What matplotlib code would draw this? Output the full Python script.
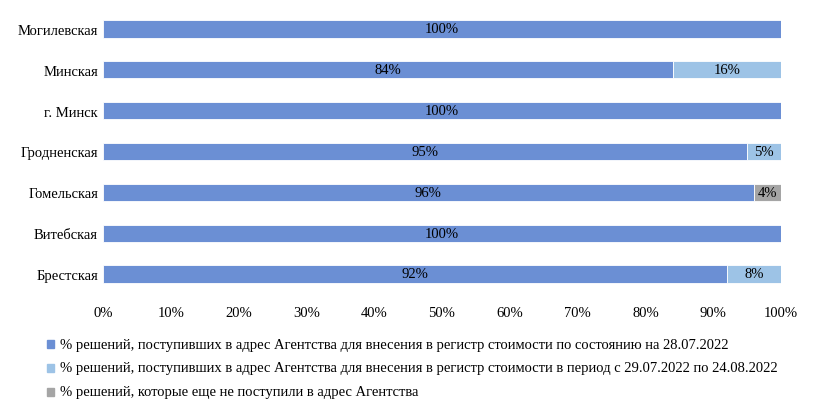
import matplotlib
matplotlib.use("Agg")
import matplotlib.pyplot as plt
import numpy as np

plt.rcParams["font.family"] = "Liberation Serif"

categories = ["Брестская", "Витебская", "Гомельская", "Гродненская", "г. Минск", "Минская", "Могилевская"]
s1 = [92, 100, 96, 95, 100, 84, 100]
s2 = [8, 0, 0, 5, 0, 16, 0]
s3 = [0, 0, 4, 0, 0, 0, 0]
names = ["% решений, поступивших в адрес Агентства для внесения в регистр стоимости по состоянию на 28.07.2022",
         "% решений, поступивших в адрес Агентства для внесения в регистр стоимости в период с 29.07.2022 по 24.08.2022",
         "% решений, которые еще не поступили в адрес Агентства"]
colors = ["#6B8FD4", "#9DC3E6", "#A5A5A5"]

fs = 10.5
fig = plt.figure(figsize=(8.17, 4.14), dpi=100)
ax = fig.add_axes([0.126, 0.2865, 0.83, 0.6905])
y = np.arange(len(categories))
left = np.zeros(len(categories))
for vals, c in zip([s1, s2, s3], colors):
    vals = np.array(vals, dtype=float)
    ax.barh(y, vals, left=left, height=0.42, color=c, edgecolor="white", linewidth=0.6)
    for yi, l, v in zip(y, left, vals):
        if v > 0:
            ax.text(l + v / 2, yi, f"{int(v)}%", ha="center", va="center", fontsize=fs, color="black")
    left += vals
ax.set_xlim(0, 100)
ax.set_ylim(-0.5, 6.5)
ax.set_yticks(y)
ax.set_yticklabels(categories, fontsize=fs)
ax.set_xticks(range(0, 101, 10))
ax.set_xticklabels([f"{v}%" for v in range(0, 101, 10)], fontsize=fs)
for s in ax.spines.values():
    s.set_visible(False)
ax.tick_params(length=0)
ax.tick_params(axis="x", pad=8)

for i, (n, c) in enumerate(zip(names, colors)):
    yy = 1 - (345 + i * 24) / 414
    fig.patches.append(plt.Rectangle((0.0575, yy - 0.009), 0.0085, 0.018, color=c, transform=fig.transFigure))
    fig.text(0.074, yy, n, fontsize=fs, va="center", ha="left")

fig.savefig("out.png", dpi=100)
